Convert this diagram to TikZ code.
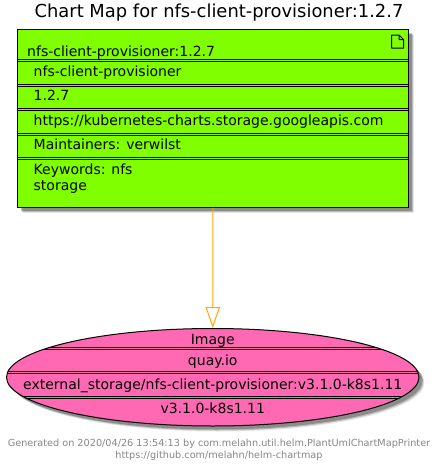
\documentclass[tikz,border=0pt]{standalone}
\usepackage{fontspec}
\setmainfont{DejaVu Sans}
\usetikzlibrary{arrows.meta,shadows,shapes.geometric}
\definecolor{chartgreen}{HTML}{80FF00}
\definecolor{imagepink}{HTML}{FF69B4}
\definecolor{linkorange}{HTML}{FFA500}
\tikzset{
  softshadow/.style={
    drop shadow={shadow xshift=5.5pt,shadow yshift=-5.5pt,fill=black,opacity=.10},
    drop shadow={shadow xshift=4.5pt,shadow yshift=-4.5pt,fill=black,opacity=.18},
    drop shadow={shadow xshift=3.5pt,shadow yshift=-3.5pt,fill=black,opacity=.25}},
  chartbox/.style={draw=black,line width=1pt,fill=chartgreen,softshadow,inner sep=0pt,
    minimum width=391pt,minimum height=177.5pt},
  imageoval/.style={shape=ellipse,draw=black,line width=1pt,fill=imagepink,softshadow,inner sep=0pt,
    minimum width=412.5pt,minimum height=97.5pt},
  field/.style={anchor=base west,inner sep=0pt,font=\fontsize{14}{16}\selectfont},
  ovalfield/.style={anchor=base,inner sep=0pt,font=\fontsize{14}{16}\selectfont},
  titletext/.style={anchor=base,inner sep=0pt,font=\fontsize{17.9}{20}\selectfont},
  footer/.style={anchor=base,inner sep=0pt,text=black!47,font=\fontsize{9.7}{12}\selectfont},
  rule/.style={black,line width=.8pt},
  link/.style={linkorange,line width=1pt,-{Triangle[open,length=21pt,width=14.5pt]}}
}
\begin{document}
\begin{tikzpicture}[x=1pt,y=-1pt]
  \useasboundingbox (0,0) rectangle (440,471);
  \fill[white] (0,0) rectangle (440,471);
  \draw
    (219,17) node[titletext] (title){Chart Map for nfs-client-provisioner:1.2.7}
    (213,118.25) node[chartbox] (chart){}
    (212.75,377.25) node[imageoval] (image){};
  \draw[link] (chart.south) to (image.north);
  \foreach \ypos in {59.7,61.5,84.2,86,108.7,110.5,133.2,135,157.7,159.5}
    \draw[rule] (17.5,\ypos) -- (408.5,\ypos);
  \begin{scope}
    \clip (212.75,377.25) ellipse [x radius=206.25,y radius=48.75];
    \foreach \ypos in {347.7,349.5,371.7,373.5,396.7,398.5}
      \draw[rule] (0,\ypos) -- (440,\ypos);
  \end{scope}
  \draw[black,line width=1pt,line join=round]
    (391.5,35) -- (399,35) -- (403.5,39.5) -- (403.5,48) -- (391.5,48) -- cycle
    (399,35) -- (399,39.5) -- (403.5,39.5);
  \draw
    (27,56) node[field] (chartname){nfs-client-provisioner:1.2.7}
    (33.5,76) node[field] (name){nfs-client-provisioner}
    (33.5,100.7) node[field] (version){1.2.7}
    (33.5,125) node[field] (repo){https://kubernetes-charts.storage.googleapis.com}
    (33.5,149.5) node[field] (maintainers){Maintainers: verwilst}
    (33.5,174) node[field] (keywords){Keywords: nfs}
    (33.5,190.5) node[field] (storage){storage}
    (212.75,344) node[ovalfield] (kind){Image}
    (212.75,365) node[ovalfield] (registry){quay.io}
    (212.75,389) node[ovalfield] (imagename){external\_storage/nfs-client-provisioner:v3.1.0-k8s1.11}
    (212.75,413) node[ovalfield] (tag){v3.1.0-k8s1.11}
    (219,446.7) node[footer] (stamp){Generated on 2020/04/26 13:54:13 by com.melahn.util.helm.PlantUmlChartMapPrinter}
    (219,458.5) node[footer] (source){https://github.com/melahn/helm-chartmap};
\end{tikzpicture}
\end{document}
